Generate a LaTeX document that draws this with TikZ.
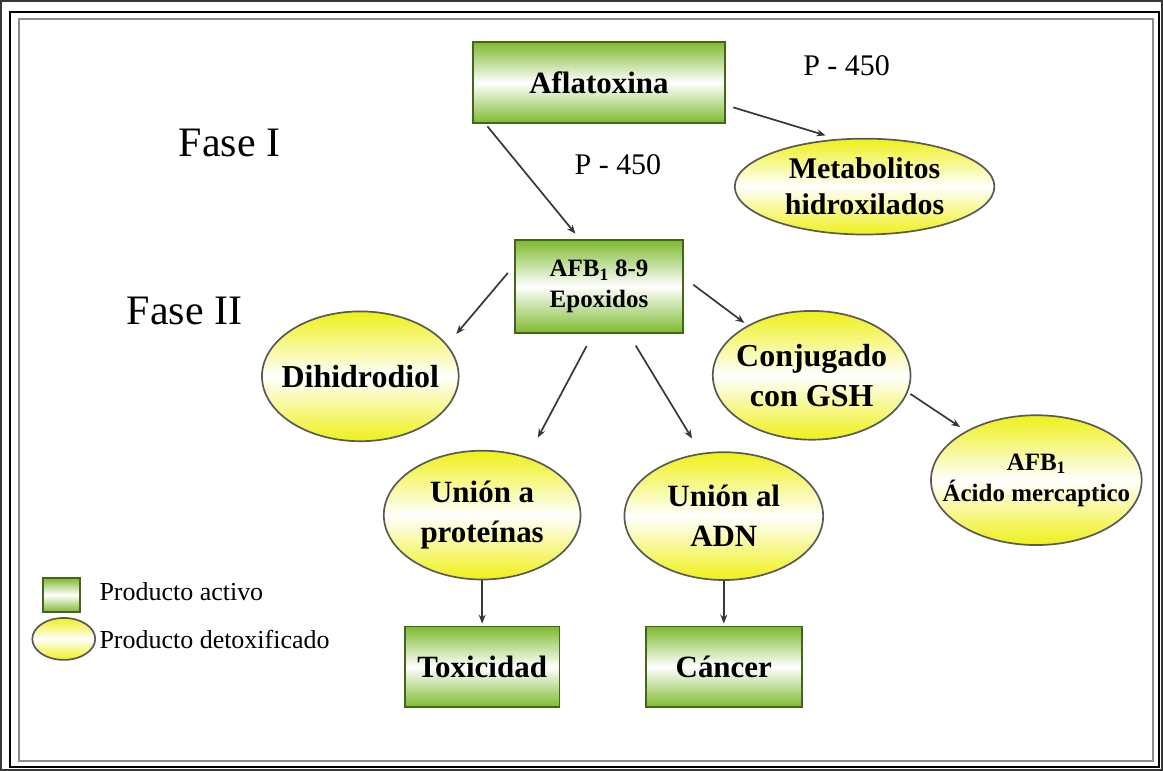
\documentclass[tikz,border=0pt]{standalone}
\usepackage{fontspec}
\setmainfont{Liberation Serif}
\usetikzlibrary{arrows.meta, shapes.geometric}

\definecolor{boxgreen}{RGB}{126,186,48}
\definecolor{ovalyellow}{RGB}{238,240,24}
\definecolor{linegray}{RGB}{55,55,55}

\begin{document}
\begin{tikzpicture}[x=1pt, y=-1pt, >={Stealth[length=9pt, width=7pt]},
  active/.style={draw=boxgreen!55!black, rectangle, inner sep=0pt, align=center,
    top color=boxgreen, bottom color=boxgreen, middle color=white,
    font=\bfseries\fontsize{31}{40}\selectfont},
  detox/.style={draw=black!65, ellipse, inner sep=-40pt, align=center,
    top color=ovalyellow, bottom color=ovalyellow, middle color=white,
    font=\bfseries\fontsize{31}{40}\selectfont},
  phase/.style={font=\fontsize{42}{44}\selectfont, inner sep=0pt},
  enzyme/.style={font=\fontsize{30}{32}\selectfont, inner sep=0pt},
  legend/.style={font=\fontsize{26}{28}\selectfont, inner sep=0pt, anchor=west},
  every path/.style={line width=1.7pt, draw=linegray}]
  \useasboundingbox (0, 0) rectangle (1163, 770);
  \draw [draw=black, line width=2pt] (9, 11) rectangle (1160, 767);
  \draw [draw=black!45, line width=2pt] (18, 18) rectangle (1154, 761);

  \node [phase] (f1) at (229, 142) {Fase I};
  \node [phase] (f2) at (184, 311) {Fase II};
  \node [enzyme] (p1) at (847, 65) {P - 450};
  \node [enzyme] (p2) at (618, 164) {P - 450};

  \node [active, minimum width=252, minimum height=81] (afla) at (599, 82) {Aflatoxina};
  \node [active, minimum width=168, minimum height=93, font=\bfseries\fontsize{25}{31}\selectfont]
    (epox) at (599, 286) {AFB\textsubscript{1} 8-9\\Epoxidos};
  \node [active, minimum width=155, minimum height=81] (tox) at (482, 667) {Toxicidad};
  \node [active, minimum width=156, minimum height=81] (canc) at (724, 667) {Cáncer};

  \node [detox, minimum width=260, minimum height=96, font=\bfseries\fontsize{30}{36}\selectfont]
    (meta) at (865, 186) {Metabolitos\\hidroxilados};
  \node [detox, minimum width=197, minimum height=130, font=\bfseries\fontsize{32}{40}\selectfont]
    (dihi) at (360, 376) {Dihidrodiol};
  \node [detox, minimum width=198, minimum height=129, font=\bfseries\fontsize{32}{40}\selectfont]
    (conj) at (812, 375) {Conjugado\\con GSH};
  \node [detox, minimum width=211, minimum height=130, font=\bfseries\fontsize{25}{31}\selectfont]
    (acid) at (1037, 480) {AFB\textsubscript{1}\\Ácido mercaptico};
  \node [detox, minimum width=197, minimum height=129] (prot) at (482, 515) {Unión a\\proteínas};
  \node [detox, minimum width=199, minimum height=128] (adn) at (724, 516) {Unión al\\ADN};

  % legend
  \node [active, minimum width=37, minimum height=34] (legact) at (61, 595) {};
  \node [detox, minimum width=63, minimum height=42] (legdet) at (63, 639) {};
  \node [legend] (txtact) at (98, 592) {Producto activo};
  \node [legend] (txtdet) at (98, 640) {Producto detoxificado};

  \draw [->, shorten <=8pt, shorten >=12pt] (afla.-10) -- (meta.120);
  \draw [->, shorten <=3pt, shorten >=7pt] (afla.-160) -- (epox.112);
  \draw [->, shorten <=10pt, shorten >=14pt] (epox.166) -- (dihi.20);
  \draw [->, shorten <=12pt, shorten >=4pt] (epox.6) -- (conj.142);
  \draw [->, shorten <=14pt, shorten >=22pt] (epox.-97) -- (prot.52);
  \draw [->, shorten <=14pt, shorten >=17pt] (epox.-58) -- (adn.110);
  \draw [->, shorten <=3pt, shorten >=7pt] (conj.-10) -- (acid.145);
  \draw [->, shorten >=2pt] (prot) -- (tox);
  \draw [->, shorten >=2pt] (adn) -- (canc);
\end{tikzpicture}
\end{document}
